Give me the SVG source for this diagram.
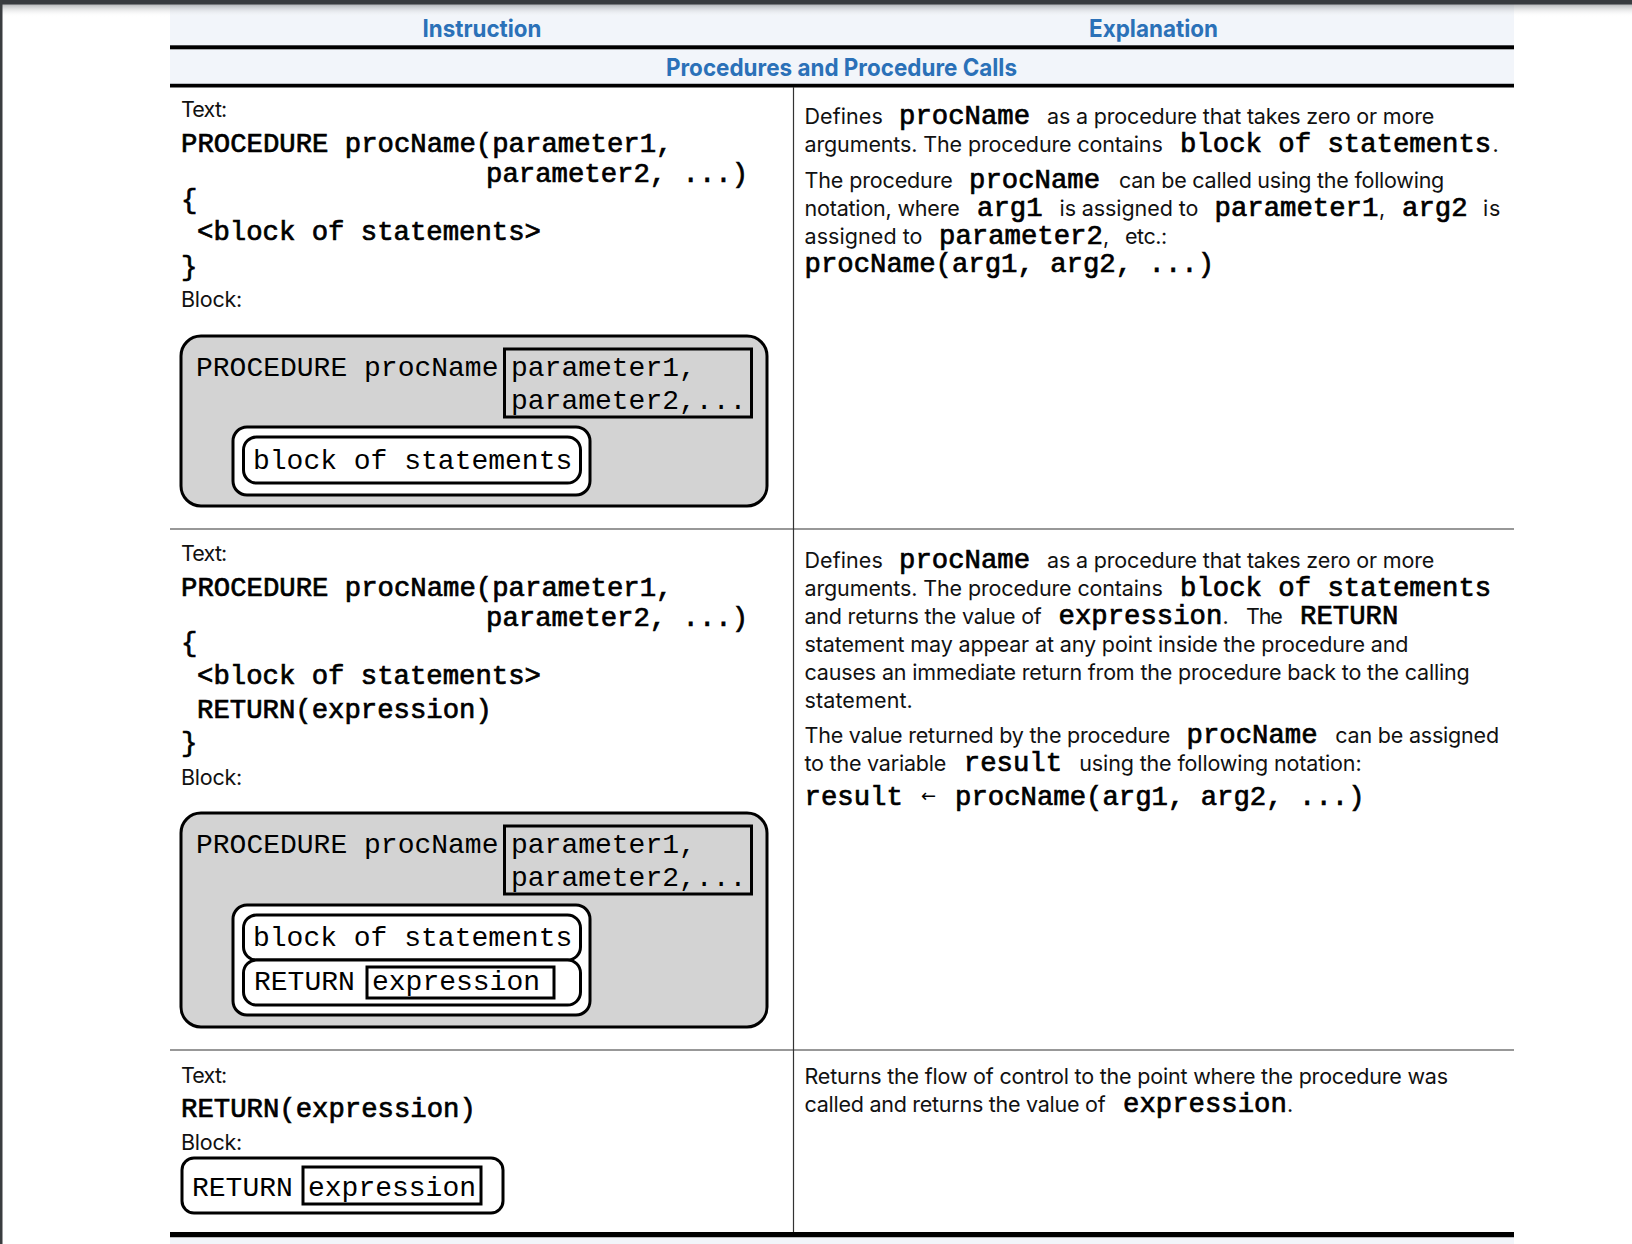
<svg xmlns="http://www.w3.org/2000/svg" width="1632" height="1244" viewBox="0 0 1632 1244">
<defs>
<linearGradient id="shadeTop" x1="0" y1="0" x2="0" y2="1">
<stop offset="0" stop-color="#7d8084" stop-opacity="0.6"/>
<stop offset="1" stop-color="#ffffff" stop-opacity="0"/>
</linearGradient>
</defs>
<style>
.hdr{font-family:Inter,"Liberation Sans",sans-serif;font-weight:700;font-size:24px;fill:#2b71b8}
.t{font-family:Inter,"Liberation Sans",sans-serif;font-size:21.5px;fill:#111;letter-spacing:-0.3px}
.m{font-family:"Liberation Mono","Courier New",monospace;font-size:28px;fill:#000}
.mb{font-family:"Liberation Mono","Courier New",monospace;font-size:27.3px;fill:#000;stroke:#000;stroke-width:0.7px}
.arr{font-family:"DejaVu Sans",sans-serif;font-size:18px;fill:#000}
.box{fill:#d3d3d3;stroke:#000;stroke-width:3}
.wbox{fill:#fff;stroke:#000;stroke-width:3}
.pbox{fill:none;stroke:#000;stroke-width:3}
.rule{stroke:#333;stroke-width:1.2;fill:none}
</style>
<rect x="0" y="0" width="1632" height="1244" fill="#fff"/>

<g id="header">
<rect x="170" y="0" width="1344" height="84" fill="#f2f5fa"/>
<rect x="170" y="45.3" width="1344" height="4" fill="#000"/>
<rect x="170" y="83" width="1344" height="1" fill="#b8bcc2"/>
<rect x="170" y="84" width="1344" height="3.5" fill="#000"/>
<text class="hdr" x="482" y="37" text-anchor="middle" textLength="119" lengthAdjust="spacingAndGlyphs">Instruction</text>
<text class="hdr" x="1153.5" y="37" text-anchor="middle" textLength="129" lengthAdjust="spacingAndGlyphs">Explanation</text>
<text class="hdr" x="841.5" y="76" text-anchor="middle" textLength="351" lengthAdjust="spacingAndGlyphs">Procedures and Procedure Calls</text>
</g>

<g id="grid">
<line class="rule" x1="793.5" y1="87" x2="793.5" y2="1233"/>
<line class="rule" x1="170" y1="529" x2="1514" y2="529"/>
<line class="rule" x1="170" y1="1050" x2="1514" y2="1050"/>
<rect x="170" y="1232" width="1344" height="5.5" fill="#000"/>
<rect x="170" y="1237.5" width="1344" height="6.5" fill="#f2f5fa"/>
</g>

<g id="row1-instruction">
<text class="t" x="181" y="117" textLength="46">Text:</text>
<text class="mb" x="181" y="152">PROCEDURE procName(parameter1,</text>
<text class="mb" x="486" y="182">parameter2, ...)</text>
<text class="mb" x="181" y="208">{</text>
<text class="mb" x="197" y="240">&lt;block of statements&gt;</text>
<text class="mb" x="181" y="275">}</text>
<text class="t" x="181" y="307" textLength="61">Block:</text>
</g>

<g id="row1-block">
<rect class="box" x="181" y="336" width="586" height="170" rx="20"/>
<text class="m" x="196" y="376">PROCEDURE procName</text>
<rect class="pbox" x="504.5" y="349" width="247" height="68"/>
<text class="m" x="511" y="376">parameter1,</text>
<text class="m" x="511" y="409">parameter2,...</text>
<rect class="wbox" x="233" y="427" width="357" height="68" rx="14"/>
<rect class="wbox" x="243.5" y="437" width="337" height="46" rx="13"/>
<text class="m" x="253" y="469">block of statements</text>
</g>

<g id="row1-explanation">
<text class="t" x="804.5" y="124" textLength="78">Defines</text>
<text class="mb" x="899" y="124">procName</text>
<text class="t" x="1047" y="124" textLength="387">as a procedure that takes zero or more</text>
<text class="t" x="804.5" y="152" textLength="358">arguments. The procedure contains</text>
<text class="mb" x="1180" y="152">block of statements</text>
<text class="t" x="1492.5" y="152">.</text>
<text class="t" x="804.5" y="188" textLength="148">The procedure</text>
<text class="mb" x="969" y="188">procName</text>
<text class="t" x="1119" y="188" textLength="325">can be called using the following</text>
<text class="t" x="804.5" y="216" textLength="155">notation, where</text>
<text class="mb" x="977" y="216">arg1</text>
<text class="t" x="1059.5" y="216" textLength="138.5">is assigned to</text>
<text class="mb" x="1214.5" y="216">parameter1</text>
<text class="t" x="1379" y="216">,</text>
<text class="mb" x="1402" y="216">arg2</text>
<text class="t" x="1483" y="216" textLength="17">is</text>
<text class="t" x="804.5" y="244" textLength="117.7">assigned to</text>
<text class="mb" x="939" y="244">parameter2</text>
<text class="t" x="1103" y="244">,</text>
<text class="t" x="1125" y="244" textLength="42">etc.:</text>
<text class="mb" x="804.5" y="272">procName(arg1, arg2, ...)</text>
</g>

<g id="row2-instruction">
<text class="t" x="181" y="561" textLength="46">Text:</text>
<text class="mb" x="181" y="595.5">PROCEDURE procName(parameter1,</text>
<text class="mb" x="486" y="625.5">parameter2, ...)</text>
<text class="mb" x="181" y="651">{</text>
<text class="mb" x="197" y="684">&lt;block of statements&gt;</text>
<text class="mb" x="197" y="718">RETURN(expression)</text>
<text class="mb" x="181" y="751">}</text>
<text class="t" x="181" y="785" textLength="61">Block:</text>
</g>

<g id="row2-block">
<rect class="box" x="181" y="813" width="586" height="214" rx="20"/>
<text class="m" x="196" y="853">PROCEDURE procName</text>
<rect class="pbox" x="504.5" y="826" width="247" height="68"/>
<text class="m" x="511" y="853">parameter1,</text>
<text class="m" x="511" y="886">parameter2,...</text>
<rect class="wbox" x="233" y="905" width="357" height="110" rx="14"/>
<rect class="wbox" x="243.5" y="915" width="337" height="45" rx="13"/>
<text class="m" x="253" y="946">block of statements</text>
<rect class="wbox" x="243.5" y="960" width="337" height="45" rx="13"/>
<text class="m" x="254" y="990">RETURN</text>
<rect class="pbox" x="367" y="967" width="187" height="31"/>
<text class="m" x="372" y="990">expression</text>
</g>

<g id="row2-explanation">
<text class="t" x="804.5" y="567.5" textLength="78">Defines</text>
<text class="mb" x="899" y="567.5">procName</text>
<text class="t" x="1047" y="567.5" textLength="387">as a procedure that takes zero or more</text>
<text class="t" x="804.5" y="595.5" textLength="358">arguments. The procedure contains</text>
<text class="mb" x="1180" y="595.5">block of statements</text>
<text class="t" x="804.5" y="623.5" textLength="237">and returns the value of</text>
<text class="mb" x="1058.5" y="623.5">expression</text>
<text class="t" x="1222.5" y="623.5">.</text>
<text class="t" x="1246" y="623.5" textLength="36.5">The</text>
<text class="mb" x="1300" y="623.5">RETURN</text>
<text class="t" x="804.5" y="651.5" textLength="603.7">statement may appear at any point inside the procedure and</text>
<text class="t" x="804.5" y="679.5" textLength="665">causes an immediate return from the procedure back to the calling</text>
<text class="t" x="804.5" y="707.5" textLength="108">statement.</text>
<text class="t" x="804.5" y="743" textLength="365.4">The value returned by the procedure</text>
<text class="mb" x="1186.5" y="743">procName</text>
<text class="t" x="1335.3" y="743" textLength="163.5">can be assigned</text>
<text class="t" x="804.5" y="771" textLength="141.5">to the variable</text>
<text class="mb" x="963.8" y="771">result</text>
<text class="t" x="1079.3" y="771" textLength="282">using the following notation:</text>
<text class="mb" x="804.5" y="805">result</text>
<text class="arr" x="921" y="802">←</text>
<text class="mb" x="955" y="805">procName(arg1, arg2, ...)</text>
</g>

<g id="row3-instruction">
<text class="t" x="181" y="1083" textLength="46">Text:</text>
<text class="mb" x="181" y="1117">RETURN(expression)</text>
<text class="t" x="181" y="1150" textLength="61">Block:</text>
</g>

<g id="row3-block">
<rect class="wbox" x="182" y="1158" width="321" height="55" rx="12"/>
<text class="m" x="192" y="1196">RETURN</text>
<rect class="pbox" x="303" y="1167" width="178" height="37"/>
<text class="m" x="308" y="1196">expression</text>
</g>

<g id="row3-explanation">
<text class="t" x="804.5" y="1083.5" textLength="643.3">Returns the flow of control to the point where the procedure was</text>
<text class="t" x="804.5" y="1111.5" textLength="300.8">called and returns the value of</text>
<text class="mb" x="1123" y="1111.5">expression</text>
<text class="t" x="1287" y="1111.5">.</text>
</g>

<g id="frame">
<rect x="0" y="4" width="1632" height="13" fill="url(#shadeTop)"/>
<rect x="0" y="0" width="1632" height="4.5" fill="#383b3f"/>
<rect x="0" y="0" width="2.5" height="1244" fill="#3a3d40"/>
</g>
</svg>
